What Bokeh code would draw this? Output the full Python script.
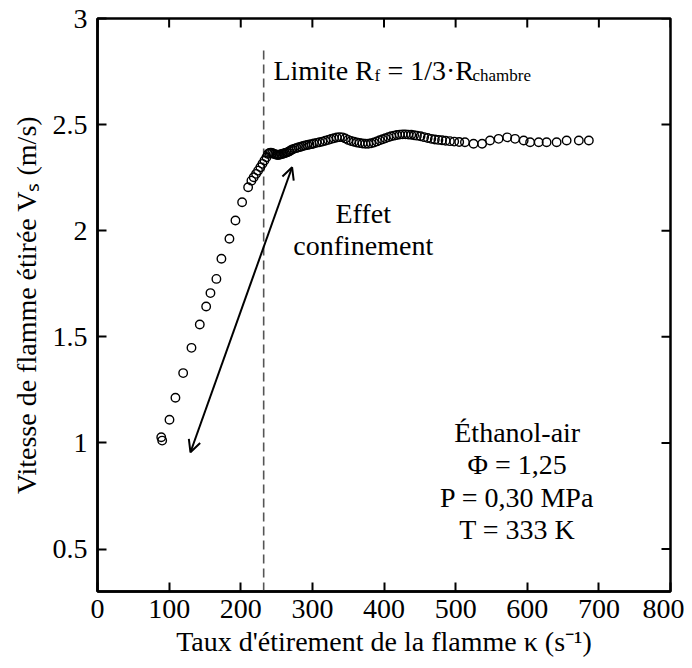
import math
from bokeh.plotting import figure
from bokeh.models import Range1d, FixedTicker, Arrow, OpenHead, ColumnDataSource
from bokeh.core.properties import value
from bokeh.embed import file_html
from bokeh.resources import INLINE

# ---------------- data ----------------
kappa = [89, 90.3, 100.5, 108.8, 119.6, 131.2, 142.8, 151.7, 157.7, 166, 173,
         184.2, 192.6, 201.9, 210.3, 214.9, 218.1, 221.4, 224.2, 227.4, 230.3,
         233.1, 235.9,
         238, 240, 242, 244, 246, 248, 250, 252, 254, 256, 258, 260, 262, 264,
         266, 268, 270, 272, 275, 278, 281, 284, 287, 290, 293, 296, 299,
         302, 306, 310, 314, 318, 322, 326, 330, 334, 338, 342, 346, 350, 354,
         358, 362, 366, 370, 374, 378, 382, 386, 390, 394, 398, 402, 406, 410,
         414, 418, 422, 426, 430, 434, 438, 442, 446, 451, 456, 461, 466, 471,
         476, 481, 486, 492, 498, 505, 513, 525, 537, 548, 560, 572, 583, 595,
         604, 616, 627, 641, 655, 672, 686]
vs = [1.027, 1.011, 1.109, 1.213, 1.329, 1.448, 1.558, 1.643, 1.706, 1.773,
      1.868, 1.962, 2.048, 2.134, 2.205, 2.236, 2.252, 2.268, 2.283, 2.299,
      2.315, 2.331, 2.346,
      2.362, 2.366, 2.368, 2.366, 2.362, 2.360, 2.358, 2.357, 2.358, 2.360,
      2.362, 2.364, 2.366, 2.368, 2.371, 2.375, 2.379, 2.383, 2.387, 2.390,
      2.393, 2.396, 2.399, 2.402, 2.404, 2.406, 2.408,
      2.411, 2.414, 2.417, 2.420, 2.424, 2.428, 2.432, 2.436, 2.439, 2.441,
      2.440, 2.435, 2.428, 2.423, 2.419, 2.416, 2.413, 2.411, 2.410, 2.410,
      2.412, 2.416, 2.421, 2.426, 2.431, 2.436, 2.441, 2.445, 2.448, 2.451,
      2.453, 2.454, 2.454, 2.453, 2.452, 2.450, 2.448, 2.445, 2.441, 2.437,
      2.433, 2.430, 2.428, 2.426, 2.424, 2.422, 2.420, 2.418, 2.417, 2.410,
      2.410, 2.425, 2.433, 2.440, 2.433, 2.425, 2.417, 2.417, 2.417, 2.417,
      2.425, 2.425, 2.425]

x_ticks = [0, 100, 200, 300, 400, 500, 600, 700, 800]
y_ticks = [0.5, 1, 1.5, 2, 2.5, 3]
y_tick_labels = ["0.5", "1", "1.5", "2", "2.5", "3"]

limit_x = 232                 # Rf = 1/3 Rchambre
limit_y = [0.3, 2.87]
arrow_start = (129.8, 0.956)
arrow_end = (271.7, 2.299)

FONT = "Liberation Serif"
FS = 28

p = figure(width=684, height=664, output_backend="svg", toolbar_location=None,
           x_range=Range1d(0, 800), y_range=Range1d(0.3, 3),
           min_border_left=97, min_border_right=14, min_border_top=18,
           min_border_bottom=73)
p.grid.visible = False
p.outline_line_color = "black"
p.outline_line_width = 2.5
p.background_fill_color = "white"
p.border_fill_color = "white"

def style_axis(ax):
    ax.axis_line_width = 2.5
    ax.axis_line_color = "black"
    ax.major_tick_in = 9
    ax.major_tick_out = 0
    ax.major_tick_line_width = 2
    ax.major_tick_line_color = "black"
    ax.minor_tick_line_color = None
    ax.major_label_text_font = FONT
    ax.major_label_text_font_size = f"{FS}px"
    ax.major_label_text_color = "black"
    ax.axis_label_text_font = FONT
    ax.axis_label_text_font_size = f"{FS}px"
    ax.axis_label_text_font_style = "normal"
    ax.axis_label_text_color = "black"

xa = p.xaxis[0]
ya = p.yaxis[0]
xa.ticker = FixedTicker(ticks=x_ticks)
ya.ticker = FixedTicker(ticks=y_ticks)
ya.major_label_overrides = {t: l for t, l in zip(y_ticks, y_tick_labels)}
style_axis(xa)
style_axis(ya)
xa.major_label_standoff = 8
ya.major_label_standoff = 10
xa.axis_label = "Taux d'étirement de la flamme κ (s⁻¹)"
ya.axis_label = "Vitesse de flamme étirée Vₛ (m/s)"
xa.axis_label_standoff = 5
ya.axis_label_standoff = 8

# inward ticks on top and right edges of the frame
p.ray(x=x_ticks, y=[3] * len(x_ticks), length=9, length_units="screen",
      angle=-math.pi / 2, line_color="black", line_width=2)
p.ray(x=[800] * len(y_ticks), y=y_ticks, length=9, length_units="screen",
      angle=math.pi, line_color="black", line_width=2)

# dashed limit line
p.line(x=[limit_x, limit_x], y=limit_y, line_color="#555555", line_width=1.6,
       line_dash="9 5")

# data
src = ColumnDataSource(dict(x=kappa, y=vs))
p.scatter("x", "y", source=src, marker="circle", size=8.5, fill_color=None,
          line_color="black", line_width=1.4)

# double arrow
p.add_layout(Arrow(x_start=arrow_start[0], y_start=arrow_start[1],
                   x_end=arrow_end[0], y_end=arrow_end[1],
                   line_width=2, line_color="black",
                   start=OpenHead(size=12, line_width=2, line_color="black"),
                   end=OpenHead(size=12, line_width=2, line_color="black")))

tf = value(FONT)
# annotation "Limite Rf = 1/3·Rchambre"
lx, ly = 245.6, 2.755
p.text(x=[lx], y=[ly], text=["Limite R"], text_font=tf, text_font_size=f"{FS}px",
       text_baseline="alphabetic", text_color="black")
p.text(x=[lx], y=[ly], text=["f"], text_font=tf, text_font_size="17px",
       text_baseline="alphabetic", x_offset=101, y_offset=5, text_color="black")
p.text(x=[lx], y=[ly], text=["\u00a0=\u00a01/3·R"], text_font=tf,
       text_font_size=f"{FS}px", text_baseline="alphabetic", x_offset=107,
       text_color="black")
p.text(x=[lx], y=[ly], text=["chambre"], text_font=tf, text_font_size="17px",
       text_baseline="alphabetic", x_offset=199, y_offset=5, text_color="black")

# "Effet confinement"
p.text(x=[371, 371], y=[2.081, 1.93], text=["Effet", "confinement"],
       text_font=tf, text_font_size=f"{FS}px", text_align="center",
       text_baseline="middle", text_color="black")

# conditions
p.text(x=[586] * 4, y=[1.049, 0.898, 0.743, 0.592],
       text=["Éthanol-air", "Φ = 1,25", "P = 0,30 MPa", "T = 333 K"],
       text_font=tf, text_font_size=f"{FS}px", text_align="center",
       text_baseline="middle", text_color="black")

open("out.html", "w").write(file_html(p, INLINE))
